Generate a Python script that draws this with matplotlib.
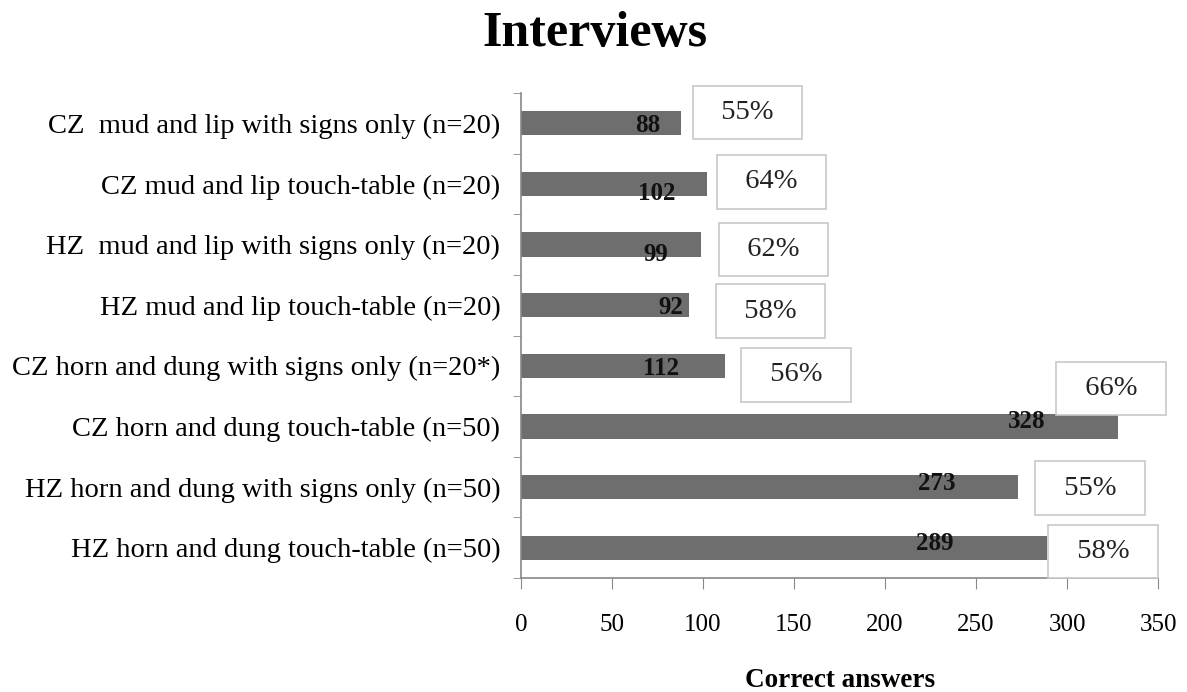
# Interviews: correct answers per group, horizontal bars
import numpy as np
import matplotlib.pyplot as plt

plt.rcParams['font.family'] = ['Liberation Serif', 'DejaVu Serif']

# datos
groups = ['CZ  mud and lip with signs only (n=20)',
          'CZ mud and lip touch-table (n=20)',
          'HZ  mud and lip with signs only (n=20)',
          'HZ mud and lip touch-table (n=20)',
          'CZ horn and dung with signs only (n=20*)',
          'CZ horn and dung touch-table (n=50)',
          'HZ horn and dung with signs only (n=50)',
          'HZ horn and dung touch-table (n=50)']
correct = [88, 102, 99, 92, 112, 328, 273, 289]
percent = ['55%', '64%', '62%', '58%', '56%', '66%', '55%', '58%']

# desplazamientos de las etiquetas (pixeles, respecto al final de la barra)
val_off = [(-33, -2), (-50, -10), (-46, -10), (-18, -2), (-64, -3), (-91, 5), (-81, 4), (-112, 4)]
pct_off = [(66, 11), (65, 2), (72, -5), (82, -6), (71, -9), (-7, 38), (72, -1), (56, -4)]

fig = plt.figure(figsize=(11.87, 6.92), dpi=100)
ax = fig.add_axes([0.439, 0.1647, 0.5366, 0.7009])

y = np.arange(len(groups))
bars = ax.barh(y, correct, height=0.4, color='#6e6e6e')

for i, bar in enumerate(bars):
    w = bar.get_width()
    ax.annotate(str(correct[i]), xy=(w, i), xytext=val_off[i], textcoords='offset pixels',
                ha='center', va='center', fontsize=18, fontweight='bold', color='#111111')
    ax.annotate('  ' + percent[i] + '  ', xy=(w, i), xytext=pct_off[i], textcoords='offset pixels',
                ha='center', va='center', fontsize=20.5, color='#222222',
                bbox=dict(boxstyle='square,pad=0.5', fc='white', ec='#c8c8c8', lw=1.2))

ax.set_xlim(0, 350)
ax.set_ylim(len(groups) - 0.5, -0.5)
ax.set_xticks(range(0, 351, 50))
ax.set_yticks(y)
ax.set_yticklabels(groups, fontsize=20.5)
ax.set_yticks(np.arange(-0.5, len(groups), 1), minor=True)
ax.tick_params(axis='y', which='major', length=0, pad=15)
ax.tick_params(axis='y', which='minor', length=6, color='#888888')
ax.tick_params(axis='x', length=8, color='#888888', labelsize=18, pad=18)

for s in ['top', 'right']:
    ax.spines[s].set_visible(False)
for s in ['left', 'bottom']:
    ax.spines[s].set_color('#888888')
    ax.spines[s].set_linewidth(1.2)

fig.text(0.501, 0.951, 'Interviews', ha='center', va='center', fontsize=36, fontweight='bold')
fig.text(0.708, 0.017, 'Correct answers', ha='center', va='center', fontsize=19.5, fontweight='bold')

fig.savefig('out.png', dpi=100)
